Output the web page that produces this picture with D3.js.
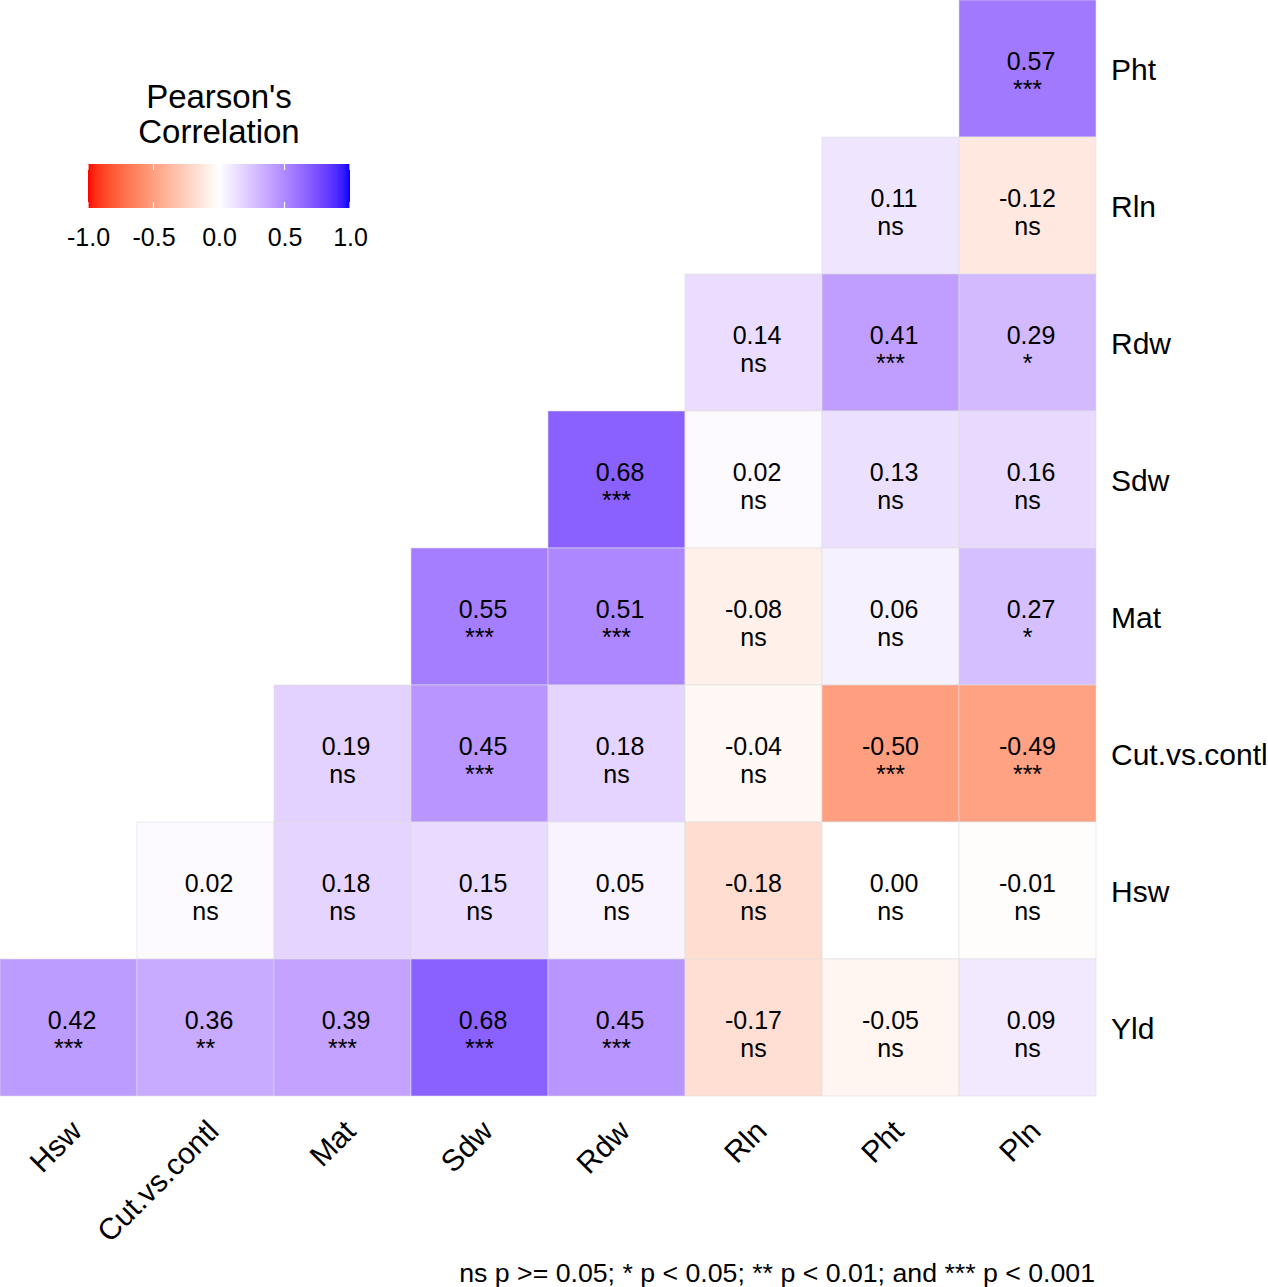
<!DOCTYPE html>
<html>
<head>
<meta charset="utf-8">
<script src="https://cdn.jsdelivr.net/npm/d3@7"></script>
<style>
  body { margin: 0; background: #fff; }
  svg { font-family: "Liberation Sans", Arial, sans-serif; }
</style>
</head>
<body>
<div id="chart"></div>
<script>
// Variables on the x axis (left to right) and y axis (top to bottom)
const columns = ['Hsw', 'Cut.vs.contl', 'Mat', 'Sdw', 'Rdw', 'Rln', 'Pht', 'Pln'];
const rows = ['Pht', 'Rln', 'Rdw', 'Sdw', 'Mat', 'Cut.vs.contl', 'Hsw', 'Yld'];

// Correlation coefficients, one array per row (null = empty cell)
const corrValues = [
    [null, null, null, null, null, null, null, 0.57],
    [null, null, null, null, null, null, 0.11, -0.12],
    [null, null, null, null, null, 0.14, 0.41, 0.29],
    [null, null, null, null, 0.68, 0.02, 0.13, 0.16],
    [null, null, null, 0.55, 0.51, -0.08, 0.06, 0.27],
    [null, null, 0.19, 0.45, 0.18, -0.04, -0.50, -0.49],
    [null, 0.02, 0.18, 0.15, 0.05, -0.18, 0.00, -0.01],
    [0.42, 0.36, 0.39, 0.68, 0.45, -0.17, -0.05, 0.09]
];

// Significance labels, same layout
const signifLabels = [
    [null, null, null, null, null, null, null, '***'],
    [null, null, null, null, null, null, 'ns', 'ns'],
    [null, null, null, null, null, 'ns', '***', '*'],
    [null, null, null, null, '***', 'ns', 'ns', 'ns'],
    [null, null, null, '***', '***', 'ns', 'ns', '*'],
    [null, null, 'ns', '***', 'ns', 'ns', '***', '***'],
    [null, 'ns', 'ns', 'ns', 'ns', 'ns', 'ns', 'ns'],
    ['***', '**', '***', '***', '***', 'ns', 'ns', 'ns']
];

const legendTicks = [-1, -0.5, 0, 0.5, 1];
const legendTitle = ["Pearson's", 'Correlation'];
const footnote = 'ns p >= 0.05; * p < 0.05; ** p < 0.01; and *** p < 0.001';

const W = 1268, H = 1287;
const panel = { left: 0, top: 0, size: 1096 };

const svg = d3.select('#chart').append('svg')
    .attr('width', W)
    .attr('height', H);

// Flatten into cells
const cells = [];
rows.forEach((r, i) => {
    columns.forEach((c, j) => {
        const v = corrValues[i][j];
        if (v !== null) cells.push({ row: r, col: c, value: v, signif: signifLabels[i][j] });
    });
});

const x = d3.scaleBand().domain(columns).range([panel.left, panel.left + panel.size]);
const y = d3.scaleBand().domain(rows).range([panel.top, panel.top + panel.size]);

// red - white - blue, interpolated in Lab like ggplot's gradient2
const color = d3.scaleLinear()
    .domain([-1, 0, 1])
    .range(['#ff0000', '#ffffff', '#0000ff'])
    .interpolate(d3.interpolateLab);

const g = svg.append('g');

g.selectAll('rect.cell')
    .data(cells)
    .enter()
    .append('rect')
    .attr('class', 'cell')
    .attr('x', d => x(d.col))
    .attr('y', d => y(d.row))
    .attr('width', x.bandwidth())
    .attr('height', y.bandwidth())
    .attr('fill', d => color(d.value))
    .attr('stroke', '#dedede')
    .attr('stroke-width', 0.6);

// Cell labels: value and significance on two lines
const lbl = g.selectAll('text.cell-label')
    .data(cells)
    .enter()
    .append('text')
    .attr('class', 'cell-label')
    .attr('text-anchor', 'middle')
    .attr('font-size', '25px')
    .attr('fill', '#000')
    .style('white-space', 'pre');

lbl.append('tspan')
    .attr('x', d => x(d.col) + x.bandwidth() / 2)
    .attr('y', d => y(d.row) + y.bandwidth() / 2 + 1)
    .text(d => (d.value < 0 ? '' : ' ') + d.value.toFixed(2));

lbl.append('tspan')
    .attr('x', d => x(d.col) + x.bandwidth() / 2)
    .attr('y', d => y(d.row) + y.bandwidth() / 2 + 29)
    .text(d => d.signif);

// Right-hand y labels
g.selectAll('text.y-label')
    .data(rows)
    .enter()
    .append('text')
    .attr('class', 'y-label')
    .attr('x', panel.left + panel.size + 15)
    .attr('y', d => y(d) + y.bandwidth() / 2 + 11.5)
    .attr('font-size', '30px')
    .attr('fill', '#000')
    .text(d => d);

// Rotated x labels
g.selectAll('text.x-label')
    .data(columns)
    .enter()
    .append('text')
    .attr('class', 'x-label')
    .attr('transform', d => `translate(${x(d) + x.bandwidth() / 2 + 15},${panel.top + panel.size + 37}) rotate(-45)`)
    .attr('text-anchor', 'end')
    .attr('font-size', '30px')
    .attr('fill', '#000')
    .text(d => d);

// Legend
const lx = d3.scaleLinear().domain([-1, 1]).range([88, 350]);
const barTop = 164, barH = 44;

const grad = svg.append('defs').append('linearGradient')
    .attr('id', 'corr-grad')
    .attr('x1', '0%').attr('x2', '100%')
    .attr('y1', '0%').attr('y2', '0%');

d3.range(0, 1.0001, 0.02).forEach(t => {
    grad.append('stop')
        .attr('offset', (t * 100) + '%')
        .attr('stop-color', color(-1 + 2 * t));
});

const legend = svg.append('g').attr('class', 'legend');

legend.append('text')
    .attr('text-anchor', 'middle')
    .attr('font-size', '33px')
    .attr('fill', '#000')
    .selectAll('tspan')
    .data(legendTitle)
    .enter()
    .append('tspan')
    .attr('x', (lx(-1) + lx(1)) / 2)
    .attr('y', (d, i) => 108 + i * 35)
    .text(d => d);

legend.append('rect')
    .attr('x', lx(-1))
    .attr('y', barTop)
    .attr('width', lx(1) - lx(-1))
    .attr('height', barH)
    .attr('fill', 'url(#corr-grad)');

// white tick marks on the bar
legendTicks.forEach(t => {
    [[barTop, barTop + 6], [barTop + barH - 6, barTop + barH]].forEach(([a, b]) => {
        legend.append('line')
            .attr('x1', lx(t)).attr('x2', lx(t))
            .attr('y1', a).attr('y2', b)
            .attr('stroke', '#fff')
            .attr('stroke-width', 1.2);
    });
});

const legendAxis = legend.append('g')
    .attr('transform', `translate(0,${barTop + barH})`)
    .call(d3.axisBottom(lx)
        .tickValues(legendTicks)
        .tickSize(0)
        .tickPadding(20)
        .tickFormat(d => d.toFixed(1)));

legendAxis.select('.domain').remove();
legendAxis.selectAll('text')
    .attr('font-size', '25px')
    .attr('font-family', '"Liberation Sans", Arial, sans-serif')
    .attr('fill', '#000');

// Footnote caption
svg.append('text')
    .attr('x', panel.left + panel.size - 1)
    .attr('y', 1282)
    .attr('text-anchor', 'end')
    .attr('font-size', '26.7px')
    .attr('fill', '#000')
    .text(footnote);
</script>
</body>
</html>
